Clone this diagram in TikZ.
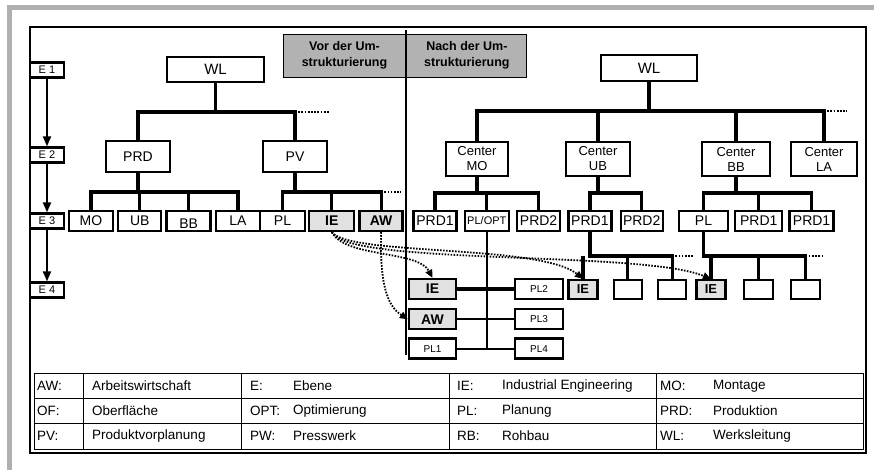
\documentclass[tikz,border=0pt]{standalone}
\usepackage{fontspec}
\setmainfont{Liberation Sans}
\usetikzlibrary{positioning,arrows.meta}
\definecolor{HeadGray}{RGB}{178,178,178}
\definecolor{BoxGray}{RGB}{225,225,225}
\definecolor{FrameGray}{RGB}{175,175,175}
\tikzset{
  orgbox/.style={draw=black,line width=2.3pt,fill=white,inner sep=0pt,
    minimum height=20pt,align=center,font=\fontsize{14}{15}\selectfont},
  greybox/.style={orgbox,fill=BoxGray,font=\fontsize{14}{15}\selectfont\bfseries},
  centerbox/.style={orgbox,minimum height=34pt,font=\fontsize{13}{15}\selectfont},
  smallbox/.style={orgbox,font=\fontsize{10}{12}\selectfont},
  levelbox/.style={draw=black,line width=2.3pt,fill=white,inner sep=0pt,
    minimum width=34pt,minimum height=15pt,font=\fontsize{11}{12}\selectfont},
  headbox/.style={draw=black,line width=0.9pt,fill=HeadGray,inner sep=0pt,
    minimum height=43pt,align=center,font=\fontsize{12.5}{16}\selectfont\bfseries},
  legendtext/.style={anchor=west,inner sep=0pt,font=\fontsize{13.5}{14}\selectfont},
  tree/.style={line width=3.2pt},
  thinline/.style={line width=2pt},
  treedots/.style={line width=2.6pt,dash pattern=on 1.7pt off 1.5pt},
  levelflow/.style={-{Triangle[length=10pt,width=8pt]},line width=2pt},
  dotflow/.style={-{Triangle[length=8pt,width=7pt]},line width=1.8pt,
    dash pattern=on 1.6pt off 1.4pt},
  frameline/.style={line width=1.7pt},
  tableline/.style={line width=1pt}
}

\begin{document}
\begin{tikzpicture}[x=1pt,y=-1pt]
  \useasboundingbox (0,0) rectangle (874,470);
  \fill[white] (0,0) rectangle (874,470);
  % outer frame
  \fill[FrameGray] (7,5) rectangle (874,10);
  \fill[FrameGray] (7,5) rectangle (12,470);
  \draw[frameline] (30,27) rectangle (866,453);

  % levels E 1 - E 4
  \node[levelbox] (e1) at (47,70) {E 1};
  \node[levelbox] (e2) at (47,155) {E 2};
  \node[levelbox] (e3) at (47,221) {E 3};
  \node[levelbox] (e4) at (47,290) {E 4};
  \foreach \a/\b in {e1/e2,e2/e3,e3/e4}
    \draw[levelflow] (\a) -- (\b);

  % header
  \node[headbox,minimum width=123pt] (vor) at (344.5,55.5) {Vor der Um-\\strukturierung};
  \node[headbox,minimum width=120pt,right=0pt of vor] (nach) {Nach der Um-\\strukturierung};
  \coordinate (divTop) at (406,30);
  \coordinate (divBot) at (406,355);
  \draw[thinline] (divTop) -- (divBot);

  % before: old structure
  \node[orgbox,minimum width=97pt,minimum height=25pt,font=\fontsize{15}{16}\selectfont] (wlOld) at (215.5,69.5) {WL};
  \node[orgbox,minimum width=64pt,minimum height=31pt] (prd) at (138,156.5) {PRD};
  \node[orgbox,minimum width=64pt,minimum height=31pt] (pv) at (295,156.5) {PV};
  \node[orgbox,minimum width=44pt] (mo) at (91,221) {MO};
  \node[orgbox,minimum width=43pt,right=3pt of mo] (ub) {UB};
  \node[orgbox,minimum width=44pt,right=3pt of ub] (bb) {\raisebox{-8pt}[0pt][0pt]{BB}};
  \node[orgbox,minimum width=44pt,right=3pt of bb] (la) {LA};
  \node[orgbox,minimum width=45pt] (plOld) at (282.5,221) {PL};
  \node[greybox,minimum width=45pt,right=2pt of plOld] (ieOld) {IE};
  \node[greybox,minimum width=43pt,right=3pt of ieOld] (awOld) {AW};

  \coordinate (busOld) at (0,112);
  \coordinate (busPrd) at (0,192);
  \draw[tree] (wlOld.south) -- (wlOld.south |- busOld);
  \draw[tree] (prd.north) |- (busOld -| pv.north) -- (pv.north);
  \draw[treedots] (busOld -| pv.north) -- ++(35,0);
  \draw[tree] (prd.south) -- (prd.south |- busPrd);
  \draw[tree] (mo.north) |- (busPrd -| la.north) -- (la.north);
  \foreach \n in {ub,bb}
    \draw[tree] (\n.north) -- (\n.north |- busPrd);
  \draw[tree] (pv.south) -- (pv.south |- busPrd);
  \draw[tree] (plOld.north) |- (busPrd -| awOld.north) -- (awOld.north);
  \draw[tree] (ieOld.north) -- (ieOld.north |- busPrd);
  \draw[treedots] (busPrd -| awOld.north) -- ++(20,0);

  % after: new structure
  \node[orgbox,minimum width=96pt,minimum height=26pt,font=\fontsize{15}{16}\selectfont] (wlNew) at (649,68) {WL};
  \node[centerbox,minimum width=62pt] (cMO) at (477,159) {Center\\MO};
  \node[centerbox,minimum width=64pt] (cUB) at (598,159) {Center\\UB};
  \node[centerbox,minimum width=68pt] (cBB) at (736,159) {Center\\BB};
  \node[centerbox,minimum width=66pt] (cLA) at (824,159) {Center\\LA};

  \node[orgbox,minimum width=43pt] (prdA) at (435,221) {PRD1};
  \node[orgbox,minimum width=44pt,right=6pt of prdA,font=\fontsize{11}{12}\selectfont] (plopt) {PL/OPT};
  \node[orgbox,minimum width=43pt,right=6pt of plopt] (prdB) {PRD2};
  \node[orgbox,minimum width=43pt,right=6pt of prdB] (prdC) {PRD1};
  \node[orgbox,minimum width=42pt,right=7pt of prdC] (prdD) {PRD2};
  \node[orgbox,minimum width=49pt,right=14pt of prdD] (plNew) {PL};
  \node[orgbox,minimum width=47pt,right=5pt of plNew] (prdE) {PRD1};
  \node[orgbox,minimum width=44pt,right=5pt of prdE] (prdF) {PRD1};

  \node[greybox,minimum width=47pt] (ieA) at (432.5,289) {IE};
  \node[greybox,minimum width=47pt,below=8pt of ieA] (awA) {AW};
  \node[smallbox,minimum width=47pt,below=7pt of awA] (plA) {PL1};
  \node[smallbox,minimum width=48pt] (plB) at (539,289) {PL2};
  \node[smallbox,minimum width=48pt,below=8pt of plB] (plC) {PL3};
  \node[smallbox,minimum width=48pt,below=7pt of plC] (plD) {PL4};

  \node[greybox,minimum width=29pt,minimum height=19pt,font=\fontsize{13}{14}\selectfont\bfseries] (ieB) at (583,289.5) {IE};
  \node[orgbox,minimum width=28pt,minimum height=19pt,right=14pt of ieB] (boxB1) {};
  \node[orgbox,minimum width=28pt,minimum height=19pt,right=14pt of boxB1] (boxB2) {};
  \node[greybox,minimum width=29pt,minimum height=19pt,font=\fontsize{13}{14}\selectfont\bfseries,right=8pt of boxB2] (ieC) {IE};
  \node[orgbox,minimum width=29pt,minimum height=19pt,right=16pt of ieC] (boxC1) {};
  \node[orgbox,minimum width=29pt,minimum height=19pt,right=16pt of boxC1] (boxC2) {};

  \coordinate (busNew) at (0,111);
  \coordinate (busMid) at (0,193);
  \coordinate (busLow) at (0,256);
  \draw[tree] (wlNew.south) -- (wlNew.south |- busNew);
  \draw[tree] (cMO.north) |- (busNew -| cLA.north) -- (cLA.north);
  \foreach \n in {cUB,cBB}
    \draw[tree] (\n.north) -- (\n.north |- busNew);
  \draw[treedots] (busNew -| cLA.north) -- ++(23,0);

  \draw[tree] (cMO.south) -- (cMO.south |- busMid);
  \draw[tree] (prdA.north) |- (busMid -| prdB.north) -- (prdB.north);
  \draw[tree] (plopt.north) -- (plopt.north |- busMid);
  \draw[tree] (cUB.south) -- (cUB.south |- busMid);
  \draw[tree] (prdC.north) |- (busMid -| prdD.north) -- (prdD.north);
  \draw[tree] (cBB.south) -- (cBB.south |- busMid);
  \draw[tree] (plNew.north) |- (busMid -| prdF.north) -- (prdF.north);
  \draw[tree] (prdE.north) -- (prdE.north |- busMid);

  \draw[thinline] (plopt.south) -- (plopt.south |- plA.east);
  \draw[tree] (ieA.east) -- (plB.west);
  \draw[thinline] (awA.east) -- (plC.west);
  \draw[thinline] (plA.east) -- (plD.west);

  \draw[tree] (prdC.south) |- (busLow -| boxB2.north) -- (boxB2.north);
  \foreach \n in {ieB,boxB1}
    \draw[tree] (\n.north) -- (\n.north |- busLow);
  \draw[treedots] (busLow -| boxB2.north) -- ++(22,0);
  \draw[tree] (plNew.south) |- (busLow -| boxC2.north) -- (boxC2.north);
  \foreach \n in {ieC,boxC1}
    \draw[tree] (\n.north) -- (\n.north |- busLow);
  \draw[treedots] (busLow -| boxC2.north) -- ++(17,0);

  % moves of IE and AW
  \draw[dotflow] (ieOld.south) .. controls (345,258) and (418,250) .. (ieA.north);
  \draw[dotflow] (ieOld.south) .. controls (350,256) and (540,244) .. (ieB.north);
  \draw[dotflow] (ieOld.south) .. controls (348,266) and (640,250) .. (ieC.north);
  \draw[dotflow] (awOld.south) .. controls (380,282) and (386,305) .. (awA.west);

  % legend
  \draw[tableline] (34,373) rectangle (863,449);
  \foreach \yy in {398,423}
    \draw[tableline] (34,\yy) -- (863,\yy);
  \foreach \xx in {83,241,449,656}
    \draw[tableline] (\xx,373) -- (\xx,449);
  \foreach \ab/\mn/\xa/\xm/\yy [count=\i] in {
      AW:/Arbeitswirtschaft/37/92/386, E:/Ebene/250/293/386,
      IE:/Industrial Engineering/457/502/386, MO:/Montage/660/713/386,
      OF:/Oberfläche/37/92/411, OPT:/Optimierung/250/293/411,
      PL:/Planung/457/502/411, PRD:/Produktion/660/713/411,
      PV:/Produktvorplanung/37/92/436, PW:/Presswerk/250/293/436,
      RB:/Rohbau/457/502/436, WL:/Werksleitung/660/713/436}
  {
    \node[legendtext] (ab\i) at (\xa,\yy) {\ab};
    \node[legendtext] (mn\i) at (\xm,\yy) {\mn};
  }
\end{tikzpicture}
\end{document}
